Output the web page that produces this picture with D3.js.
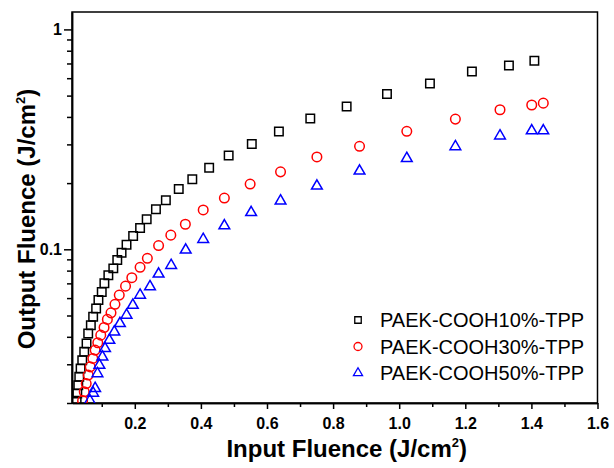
<!DOCTYPE html>
<html>
<head>
<meta charset="utf-8">
<script src="https://cdn.jsdelivr.net/npm/d3@7"></script>
<style>
	body { margin: 0; background: #fff; }
	svg { display: block; font-family: "Liberation Sans", Arial, sans-serif; }
	.axis path, .axis line { stroke: #000; stroke-width: 1.5; }
	.axis text { font-size: 16px; font-weight: bold; fill: #000; }
	.axis-title { font-size: 24px; font-weight: bold; fill: #000; }
	.legend text { font-size: 20px; fill: #000; }
</style>
</head>
<body>
<div id="chart"></div>
<script>

// Input fluence (J/cm2) / output fluence (J/cm2)
let x10 = [0.024, 0.026, 0.029, 0.032, 0.036, 0.041, 0.047, 0.054, 0.059, 0.067, 0.074, 0.083, 0.090, 0.100, 0.108, 0.120,
	0.135, 0.147, 0.160, 0.175, 0.195, 0.216, 0.236, 0.264, 0.294, 0.333, 0.374, 0.425, 0.484, 0.554, 0.636, 0.731,
	0.841, 0.963, 1.093, 1.220, 1.332, 1.409];
let y10 = [0.0205, 0.0221, 0.0241, 0.0263, 0.0287, 0.0313, 0.0342, 0.0373, 0.0414, 0.0452, 0.0493, 0.0538, 0.0588, 0.064, 0.070, 0.0763,
	0.0819, 0.0894, 0.0965, 0.105, 0.115, 0.125, 0.137, 0.152, 0.167, 0.188, 0.208, 0.235, 0.267, 0.301, 0.343, 0.393,
	0.446, 0.509, 0.568, 0.644, 0.686, 0.720];

let x30 = [0.042, 0.047, 0.053, 0.059, 0.065, 0.073, 0.080, 0.088, 0.097, 0.107, 0.117, 0.128, 0.140, 0.153, 0.172, 0.191,
	0.216, 0.238, 0.272, 0.309, 0.353, 0.407, 0.471, 0.549, 0.641, 0.751, 0.880, 1.023, 1.170, 1.305, 1.401, 1.436];
let y30 = [0.0205, 0.0225, 0.0245, 0.0268, 0.0292, 0.0319, 0.0348, 0.0376, 0.0407, 0.0441, 0.048, 0.0514, 0.0562, 0.0619, 0.068, 0.0743,
	0.0828, 0.091, 0.104, 0.116, 0.130, 0.151, 0.171, 0.198, 0.225, 0.263, 0.294, 0.344, 0.391, 0.431, 0.453, 0.462];

let x50 = [0.064, 0.074, 0.080, 0.087, 0.093, 0.102, 0.110, 0.123, 0.138, 0.155, 0.175, 0.194, 0.216, 0.246, 0.272, 0.310,
	0.354, 0.407, 0.471, 0.552, 0.641, 0.751, 0.880, 1.023, 1.170, 1.305, 1.401, 1.436];
let y50 = [0.0205, 0.0222, 0.0233, 0.0272, 0.0297, 0.0324, 0.0354, 0.0386, 0.0421, 0.046, 0.0502, 0.0557, 0.0619, 0.0676, 0.0772, 0.0845,
	0.0993, 0.111, 0.128, 0.147, 0.166, 0.194, 0.227, 0.259, 0.293, 0.328, 0.346, 0.346];

let seriesNames = ["PAEK-COOH10%-TPP", "PAEK-COOH30%-TPP", "PAEK-COOH50%-TPP"];

let xMajorTicks = [0.2, 0.4, 0.6, 0.8, 1.0, 1.2, 1.4, 1.6];
let xMinorTicks = [0.1, 0.3, 0.5, 0.7, 0.9, 1.1, 1.3, 1.5];
let yMajorTicks = [0.1, 1];
let yMinorTicks = [0.02, 0.03, 0.04, 0.05, 0.06, 0.07, 0.08, 0.09, 0.2, 0.3, 0.4, 0.5, 0.6, 0.7, 0.8, 0.9];


let width = 614, height = 468;
let margin = { top: 12, right: 16.5, bottom: 65, left: 72 };

let svg = d3.select("#chart").append("svg")
	.attr("width", width)
	.attr("height", height);

// Scales
let x = d3.scaleLinear()
	.domain([0.01, 1.6])
	.range([margin.left, width - margin.right]);

let y = d3.scaleLog()
	.domain([0.02, 1.2])
	.range([height - margin.bottom, margin.top]);

// Clip the markers to the frame
svg.append("defs").append("clipPath")
	.attr("id", "clip")
	.append("rect")
	.attr("x", margin.left)
	.attr("y", margin.top)
	.attr("width", width - margin.left - margin.right)
	.attr("height", height - margin.top - margin.bottom);

// Axes: major + minor ticks, outward
let fmtX = d3.format(".1f");

svg.append("g")
	.attr("class", "axis")
	.attr("transform", "translate(0," + y.range()[0] + ")")
	.call(d3.axisBottom(x).tickValues(xMinorTicks).tickSize(4).tickSizeOuter(0).tickFormat(""));

svg.append("g")
	.attr("class", "axis")
	.attr("transform", "translate(0," + y.range()[0] + ")")
	.call(d3.axisBottom(x).tickValues(xMajorTicks).tickSize(6).tickSizeOuter(0).tickPadding(9).tickFormat(fmtX));

svg.append("g")
	.attr("class", "axis")
	.attr("transform", "translate(" + x.range()[0] + ",0)")
	.call(d3.axisLeft(y).tickValues(yMinorTicks).tickSize(5).tickSizeOuter(0).tickFormat(""));

svg.append("g")
	.attr("class", "axis")
	.attr("transform", "translate(" + x.range()[0] + ",0)")
	.call(d3.axisLeft(y).tickValues(yMajorTicks).tickSize(8).tickSizeOuter(0).tickPadding(2).tickFormat(d => d));

// Top and right borders
svg.append("rect")
	.attr("x", x.range()[0])
	.attr("y", y.range()[1])
	.attr("width", x.range()[1] - x.range()[0])
	.attr("height", y.range()[0] - y.range()[1])
	.attr("fill", "none")
	.attr("stroke", "#000")
	.attr("stroke-width", 1.5);

// Axis titles
let xTitle = svg.append("text")
	.attr("class", "axis-title")
	.attr("x", (x.range()[0] + x.range()[1]) / 2 + 12)
	.attr("y", 457)
	.attr("text-anchor", "middle");
xTitle.append("tspan").text("Input Fluence (J/cm");
xTitle.append("tspan").attr("dy", -10).attr("font-size", "13px").text("2");
xTitle.append("tspan").attr("dy", 10).text(")");

let yTitle = svg.append("text")
	.attr("class", "axis-title")
	.attr("transform", "translate(35," + 219 + ") rotate(-90)")
	.attr("text-anchor", "middle");
yTitle.append("tspan").text("Output Fluence (J/cm");
yTitle.append("tspan").attr("dy", -10).attr("font-size", "13px").text("2");
yTitle.append("tspan").attr("dy", 10).text(")");

// Series
let series = [
	{ name: seriesNames[0], xs: x10, ys: y10, color: "#000", symbol: d3.symbolSquare, size: 72, legendSize: 42 },
	{ name: seriesNames[1], xs: x30, ys: y30, color: "#ff0000", symbol: d3.symbolCircle, size: 72, legendSize: 50 },
	{ name: seriesNames[2], xs: x50, ys: y50, color: "#0000ff", symbol: d3.symbolTriangle, size: 50, legendSize: 36 }
];

let plot = svg.append("g").attr("clip-path", "url(#clip)");

series.forEach(s => {
	let pts = s.xs.map((v, i) => ({ x: v, y: s.ys[i] }));
	plot.append("g")
		.selectAll("path")
		.data(pts)
		.enter().append("path")
		.attr("d", d3.symbol().type(s.symbol).size(s.size))
		.attr("transform", d => "translate(" + x(d.x) + "," + y(d.y) + ")")
		.attr("fill", "none")
		.attr("stroke", s.color)
		.attr("stroke-width", 1.5);
});

// Legend
let legend = svg.append("g")
	.attr("class", "legend")
	.attr("transform", "translate(358,320)");

series.forEach((s, i) => {
	let row = legend.append("g").attr("transform", "translate(0," + (i * 26.5) + ")");
	row.append("path")
		.attr("d", d3.symbol().type(s.symbol).size(s.legendSize))
		.attr("fill", "none")
		.attr("stroke", s.color)
		.attr("stroke-width", 1.3);
	row.append("text")
		.attr("x", 22)
		.attr("y", 7)
		.text(s.name);
});

</script>
</body>
</html>
